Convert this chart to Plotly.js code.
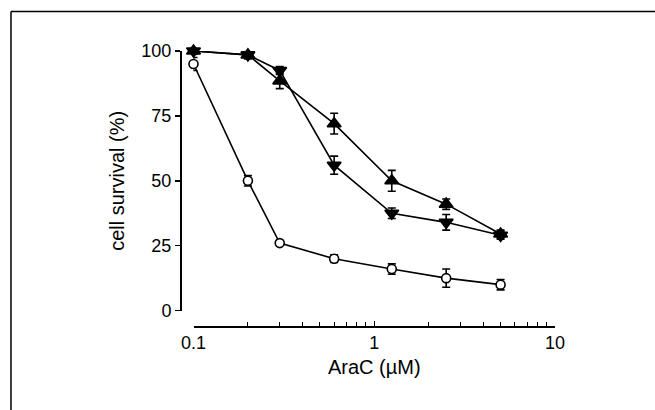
<!DOCTYPE html>
<html>
<head>
<meta charset="utf-8">
<script src="https://cdn.plot.ly/plotly-3.0.1.min.js"></script>
<style>html,body{margin:0;padding:0;background:#fff;}#chart{width:655px;height:410px;}</style>
</head>
<body>
<div id="chart"></div>
<script>
// Data
const doses = [0.1, 0.2, 0.3, 0.6, 1.25, 2.5, 5];
const circleVals = [95, 50, 26, 20, 16, 12.5, 10];
const circleErr  = [2.5, 2, 0.8, 1.5, 2, 3.5, 2];
const upVals = [100, 98.5, 88.5, 72, 50, 41, 29.5];
const upErr  = [1, 1.5, 3, 4, 4, 2, 1.5];
const downVals = [100, 98.5, 92.5, 56, 37.5, 34, 29];
const downErr  = [1, 1.5, 1.5, 3.5, 2, 3, 1.5];
const xTickVals = [0.1, 1, 10];
const xTickText = ['0.1', '1', '10'];
const xMinorVals = [0.2,0.3,0.4,0.5,0.6,0.7,0.8,0.9,2,3,4,5,6,7,8,9];
const yTickVals = [0, 25, 50, 75, 100];

const font = 'Liberation Sans, Arial, sans-serif';
function series(y, err, symbol, fill) {
  return {
    x: doses, y: y, type: 'scatter', mode: 'lines+markers',
    line: {color: 'black', width: 1.6},
    marker: {symbol: symbol, size: symbol === 'circle' ? 9 : 12, color: fill,
             line: {color: 'black', width: 1.6}},
    error_y: {type: 'data', array: err, visible: true, color: 'black', thickness: 1.6, width: 4},
    cliponaxis: false, showlegend: false
  };
}
const data = [
  series(downVals, downErr, 'triangle-down', 'black'),
  series(upVals, upErr, 'triangle-up', 'black'),
  series(circleVals, circleErr, 'circle', 'white')
];
const layout = {
  width: 655, height: 410,
  margin: {l: 180, r: 100, t: 51, b: 84},
  paper_bgcolor: 'white', plot_bgcolor: 'white',
  font: {family: font, size: 18, color: 'black'},
  xaxis: {
    type: 'log', range: [-1, 1], domain: [0.036, 1],
    anchor: 'free', position: 0,
    showgrid: false, zeroline: false, showline: true, linecolor: 'black', linewidth: 1.5,
    ticks: 'inside', ticklen: 5, tickwidth: 1, tickcolor: 'black',
    tickmode: 'array', tickvals: xTickVals, ticktext: xTickText,
    minor: {tickmode: 'array', tickvals: xMinorVals, ticks: 'inside', ticklen: 4, tickcolor: 'black', tickwidth: 1, showgrid: false},
    tickfont: {size: 18},
    title: {text: 'AraC (µM)', font: {size: 20}, standoff: 8}
  },
  yaxis: {
    range: [0, 100], domain: [0.056, 1],
    anchor: 'free', position: 0,
    showgrid: false, zeroline: false, showline: true, linecolor: 'black', linewidth: 1.5,
    ticks: 'outside', ticklen: 5, tickwidth: 1.5, tickcolor: 'black',
    tickmode: 'array', tickvals: yTickVals,
    tickfont: {size: 18},
    title: {text: 'cell survival (%)', font: {size: 20}, standoff: 10}
  },
  shapes: [
    {type: 'line', xref: 'paper', yref: 'paper', x0: -0.4507, x1: 1.3, y0: 1.1436, y1: 1.1436, line: {color: 'black', width: 1.5}},
    {type: 'line', xref: 'paper', yref: 'paper', x0: -0.4507, x1: -0.4507, y0: 1.1436, y1: -0.4, line: {color: 'black', width: 1.5}}
  ]
};
Plotly.newPlot('chart', data, layout, {displayModeBar: false, staticPlot: true});
</script>
</body>
</html>
